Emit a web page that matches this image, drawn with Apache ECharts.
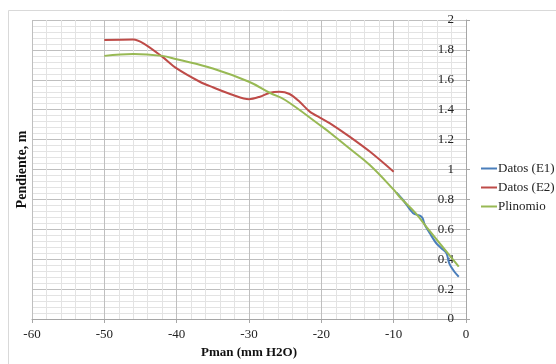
<!DOCTYPE html>
<html>
<head>
<meta charset="utf-8">
<script src="https://cdn.jsdelivr.net/npm/echarts@6/dist/echarts.min.js"></script>
<style>html,body{margin:0;padding:0;background:#fff;}#c{width:556px;height:364px;}</style>
</head>
<body>
<div id="c"></div>
<script>
const xTicks = [-60, -50, -40, -30, -20, -10, 0];
const yTicks = [0, 0.2, 0.4, 0.6, 0.8, 1, 1.2, 1.4, 1.6, 1.8, 2];
const seriesNames = ['Datos (E1)', 'Datos (E2)', 'Plinomio'];
const e1X = [-9.6, -8.7, -7.3, -6.3, -6.0, -5.7, -5.0, -4.1, -3.4, -2.7, -2.3, -1.6, -1.0];
const e1Y = [0.845, 0.796, 0.707, 0.69, 0.674, 0.63, 0.573, 0.506, 0.473, 0.44, 0.37, 0.316, 0.283];
const e2X = [-50, -46, -44.6, -42, -40, -36.8, -35, -32.2, -30, -28.5, -27.1, -25.8, -24.4, -23, -21.6, -20, -18.8, -16.1, -13.3, -10];
const e2Y = [1.866, 1.87, 1.844, 1.755, 1.676, 1.587, 1.55, 1.498, 1.47, 1.487, 1.514, 1.52, 1.505, 1.453, 1.387, 1.342, 1.309, 1.22, 1.12, 0.985];
const polyX = [-50, -46, -42, -40, -35, -30, -27, -25, -20, -18.8, -16.1, -13.3, -10, -9.2, -7, -5, -1];
const polyY = [1.76, 1.773, 1.76, 1.737, 1.676, 1.587, 1.51, 1.465, 1.29, 1.246, 1.14, 1.03, 0.865, 0.818, 0.71, 0.587, 0.35];

const zip = (xs, ys) => xs.map((x, i) => [x, ys[i]]);
const font = '"Liberation Serif", "DejaVu Serif", serif';
const chart = echarts.init(document.getElementById('c'), null, {renderer: 'canvas'});
chart.setOption({
  animation: false,
  backgroundColor: '#fff',
  textStyle: {fontFamily: font},
  graphic: [{
    type: 'rect', left: 6, top: 8, z: -10,
    shape: {width: 620, height: 420},
    style: {fill: 'none', stroke: '#d9d9d9', lineWidth: 1}
  }],
  grid: {left: 32, right: 90, top: 20, bottom: 45, containLabel: false},
  legend: {
    orient: 'vertical', left: 481, top: 162, padding: 0,
    itemWidth: 16, itemHeight: 2, itemGap: 6,
    icon: 'rect',
    textStyle: {fontFamily: font, fontSize: 13, color: '#222', padding: [0, 0, 0, -4]},
    data: seriesNames
  },
  xAxis: {
    type: 'value', min: xTicks[0], max: xTicks[xTicks.length - 1], interval: 10,
    name: 'Pman (mm H2O)', nameLocation: 'middle', nameGap: 25,
    nameTextStyle: {fontFamily: font, fontSize: 13, fontWeight: 'bold', color: '#111'},
    axisLine: {show: true, onZero: false, lineStyle: {color: '#a6a6a6'}},
    axisTick: {show: true, length: 4, lineStyle: {color: '#a6a6a6'}},
    axisLabel: {fontFamily: font, fontSize: 13, color: '#222', margin: 9},
    splitLine: {show: true, lineStyle: {color: '#bfbfbf', width: 1}},
    minorTick: {show: false, splitNumber: 5},
    minorSplitLine: {show: true, lineStyle: {color: '#e3e3e3', width: 1}}
  },
  yAxis: [{
    type: 'value', min: yTicks[0], max: yTicks[yTicks.length - 1], interval: 0.2,
    position: 'right',
    axisLine: {show: true, onZero: false, lineStyle: {color: '#a6a6a6'}},
    axisTick: {show: true, inside: false, length: 4, lineStyle: {color: '#a6a6a6'}},
    axisLabel: {inside: true, fontFamily: font, fontSize: 13, color: '#222', margin: 12},
    splitLine: {show: true, lineStyle: {color: '#bfbfbf', width: 1}},
    minorTick: {show: false, splitNumber: 5},
    minorSplitLine: {show: true, lineStyle: {color: '#e3e3e3', width: 1}}
  }, {
    type: 'value', min: 0, max: 2, position: 'left',
    name: 'Pendiente, m', nameLocation: 'middle', nameGap: 3,
    nameTextStyle: {fontFamily: font, fontSize: 14, fontWeight: 'bold', color: '#111'},
    axisLine: {show: false}, axisTick: {show: false}, axisLabel: {show: false}, splitLine: {show: false}
  }],
  series: [
    {name: seriesNames[0], type: 'line', data: zip(e1X, e1Y), smooth: 0.3, showSymbol: false,
     itemStyle: {color: '#4A7EBB'}, lineStyle: {color: '#4A7EBB', width: 2}, z: 4},
    {name: seriesNames[1], type: 'line', data: zip(e2X, e2Y), smooth: 0.3, showSymbol: false,
     itemStyle: {color: '#BE4B48'}, lineStyle: {color: '#BE4B48', width: 2}, z: 3},
    {name: seriesNames[2], type: 'line', data: zip(polyX, polyY), smooth: 0.4, showSymbol: false,
     itemStyle: {color: '#98B954'}, lineStyle: {color: '#98B954', width: 2}, z: 5}
  ]
});
</script>
</body>
</html>
